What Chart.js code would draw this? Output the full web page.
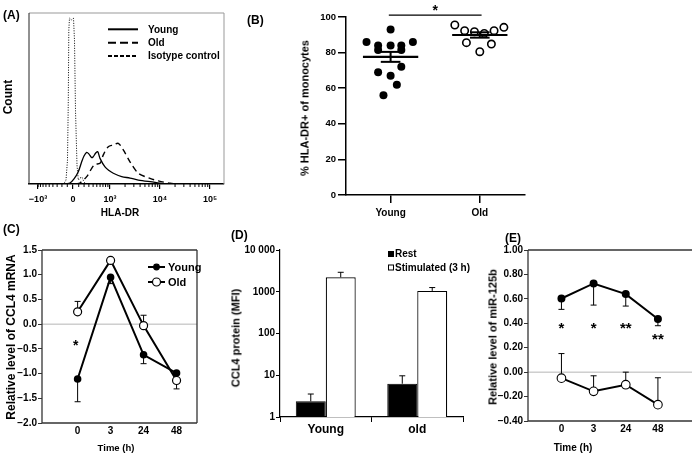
<!DOCTYPE html>
<html><head><meta charset="utf-8">
<script src="https://cdn.jsdelivr.net/npm/chart.js@4.4.1/dist/chart.umd.min.js"></script>
<style>
html,body{margin:0;padding:0;background:#fff;}
body{width:698px;height:457px;position:relative;overflow:hidden;font-family:'Liberation Sans',Arial,sans-serif;font-weight:bold;color:#000;}
canvas{position:absolute;}
.t{position:absolute;white-space:nowrap;line-height:1;}
.c{transform:translate(-50%,-50%);}
.l{transform:translate(0,-50%);}
.r{transform:translate(-50%,-50%) rotate(-90deg);}
</style></head><body>
<canvas id="cA" width="230" height="200" style="left:0;top:5px"></canvas>
<canvas id="cB" width="290" height="225" style="left:240px;top:0"></canvas>
<canvas id="cC" width="205" height="215" style="left:0;top:235px"></canvas>
<canvas id="cD" width="240" height="215" style="left:230px;top:235px"></canvas>
<canvas id="cE" width="238" height="215" style="left:460px;top:235px"></canvas>

<div class="t l" style="left:3px;top:15px;font-size:12px">(A)</div>
<div class="t l" style="left:247px;top:20px;font-size:12px">(B)</div>
<div class="t l" style="left:3px;top:229px;font-size:12px">(C)</div>
<div class="t l" style="left:231px;top:235px;font-size:12px">(D)</div>
<div class="t l" style="left:505px;top:238px;font-size:12px">(E)</div>

<div class="t r" style="left:8px;top:97px;font-size:12px">Count</div>
<div class="t c" style="left:120px;top:213px;font-size:10px">HLA-DR</div>
<div class="t r" style="left:305px;top:108px;font-size:11px">% HLA-DR+ of monocytes</div>
<div class="t r" style="left:11px;top:337px;font-size:12px">Relative level of CCL4 mRNA</div>
<div class="t c" style="left:116px;top:448px;font-size:9.5px">Time (h)</div>
<div class="t r" style="left:236px;top:338px;font-size:11px">CCL4 protein (MFI)</div>
<div class="t r" style="left:493px;top:337px;font-size:11px">Relative level of miR-125b</div>
<div class="t c" style="left:573px;top:448px;font-size:10px">Time (h)</div>

<script>
// ---------- DATA ----------
// (A) histogram, x in display (biexponential) units, y = relative count
const isoX   = [2.0, 2.08, 2.12, 2.15, 2.166, 2.176, 2.19, 2.23, 2.27, 2.29, 2.31, 2.34, 2.366, 2.40, 2.44, 2.48, 2.52];
const isoY   = [0, 0.3, 2.3, 14, 49, 90, 97, 96, 97, 84, 43, 11, 2.3, 3.5, 4, 1.2, 0];
const youngAX = [2.12, 2.2, 2.28, 2.366, 2.434, 2.48, 2.534, 2.58, 2.63, 2.66, 2.714, 2.754, 2.8, 2.9, 2.98, 3.066, 3.234, 3.4, 3.566, 3.9, 4.1];
const youngAY = [0, 0.6, 3, 7.2, 13, 16.4, 18.5, 17.5, 15.5, 15.8, 18.1, 18.9, 15, 10, 7.9, 6.3, 4.3, 3.5, 2.3, 1, 0];
const oldAX  = [2.32, 2.4, 2.534, 2.634, 2.7, 2.8, 2.866, 2.966, 3.066, 3.166, 3.266, 3.4, 3.566, 3.8, 3.966, 4.2, 4.4];
const oldAY  = [0, 0.6, 4.3, 9.2, 11.5, 12.1, 17, 21.8, 22.8, 23.8, 19.9, 13, 6.3, 3.3, 1.8, 0.4, 0];
const ticksA = [1.56, 2.26, 3, 4, 5];
const tickLabelsA = ['−10³', '0', '10³', '10⁴', '10⁵'];
const legendA = ['Young', 'Old', 'Isotype control'];

// (B) % HLA-DR+ of monocytes
const groupsB = ['Young', 'Old'];
const youngB = [93, 86, 86, 84, 84, 84, 81.5, 81.5, 72, 69, 67, 62, 56];
const youngBJitter = [0, -0.27, 0.25, -0.14, 0, 0.12, -0.14, 0.12, 0.12, -0.14, 0, 0.07, -0.08];
const oldB = [95.5, 92.3, 91.7, 90.8, 92.3, 94.2, 85.6, 80.5, 84.8];
const oldBJitter = [-0.28, -0.17, -0.06, 0.05, 0.16, 0.27, -0.15, 0, 0.13];
const meanB = [77.6, 89.9];
const semB = [2.8, 1.5];

// (C) CCL4 mRNA
const timesC = ['0', '3', '24', '48'];
const seriesNames = ['Young', 'Old'];
const youngC = [-1.11, 0.95, -0.62, -0.99];
const youngCErr = [-1.57, 0.82, -0.80, null];
const oldC = [0.25, 1.29, -0.03, -1.14];
const oldCErr = [0.46, 1.34, 0.18, -1.31];

// (D) CCL4 protein
const groupsD = ['Young', 'old'];
const seriesD = ['Rest', 'Stimulated (3 h)'];
const restD = [2.37, 6.26];
const restDErr = [3.55, 9.7];
const stimD = [2220, 1047];
const stimDErr = [2925, 1260];
const ticksD = [1, 10, 100, 1000, 10000];
const tickLabelsD = ['1', '10', '100', '1000', '10 000'];

// (E) miR-125b
const timesE = ['0', '3', '24', '48'];
const youngE = [0.603, 0.726, 0.639, 0.435];
const youngEErr = [0.514, 0.549, 0.541, 0.38];
const oldE = [-0.049, -0.157, -0.103, -0.266];
const oldEErr = [0.152, -0.03, 0.00, -0.046];
const starsE = ['*', '*', '**', '**'];
const starsEY = [0.39, 0.39, 0.39, 0.30];

// ---------- SETUP ----------
const FONT = "'Liberation Sans', Arial, sans-serif";
Chart.defaults.font.family = FONT;
Chart.defaults.font.weight = 'bold';
Chart.defaults.font.size = 10;
Chart.defaults.color = '#000';
Chart.defaults.animation = false;
Chart.defaults.responsive = false;
Chart.defaults.devicePixelRatio = 1;
Chart.defaults.events = [];
Chart.defaults.plugins.legend.display = false;
Chart.defaults.plugins.tooltip.enabled = false;

const pts = (xs, ys) => xs.map((x, i) => ({x, y: ys[i]}));
const idxPts = ys => ys.map((y, i) => ({x: i, y}));
const setTicks = vals => a => { a.ticks = vals.map(v => ({value: v})); };
const fmtSigned = d => v => Math.abs(v) < 1e-9 ? (0).toFixed(d) : (v < 0 ? '−' : '') + Math.abs(v).toFixed(d);

function line(ctx, x1, y1, x2, y2) { ctx.beginPath(); ctx.moveTo(x1, y1); ctx.lineTo(x2, y2); ctx.stroke(); }

function framePlugin(sides, width) {
  return {id: 'frame', afterDraw(chart) {
    const {ctx, chartArea: a} = chart;
    ctx.save(); ctx.lineWidth = width;
    if (sides.top) { ctx.strokeStyle = sides.top; line(ctx, a.left, a.top, a.right, a.top); }
    if (sides.right) { ctx.strokeStyle = sides.right; line(ctx, a.right, a.top, a.right, a.bottom); }
    if (sides.bottom) { ctx.strokeStyle = sides.bottom; line(ctx, a.left, a.bottom, a.right, a.bottom); }
    if (sides.left) { ctx.strokeStyle = sides.left; line(ctx, a.left, a.top, a.left, a.bottom); }
    ctx.restore();
  }};
}
const zeroPlugin = {id: 'zero', beforeDatasetsDraw(chart) {
  const {ctx, chartArea: a} = chart; const y = chart.scales.y.getPixelForValue(0);
  ctx.save(); ctx.strokeStyle = '#b5b5b5'; ctx.lineWidth = 1; line(ctx, a.left, y, a.right, y); ctx.restore();
}};
function errPlugin(specs) {
  return {id: 'err', beforeDatasetsDraw(chart) {
    const ctx = chart.ctx, ys = chart.scales.y;
    ctx.save(); ctx.strokeStyle = '#000'; ctx.lineWidth = 1;
    specs.forEach(s => {
      const meta = chart.getDatasetMeta(s.ds);
      s.ends.forEach((e, i) => {
        if (e == null) return;
        const el = meta.data[i]; const py = ys.getPixelForValue(e);
        line(ctx, el.x, el.y, el.x, py);
        line(ctx, el.x - s.cap, py, el.x + s.cap, py);
      });
    });
    ctx.restore();
  }};
}
function lineLegend(x0, x1, tx, items, size) {
  return {id: 'lleg', afterDraw(chart) {
    const ctx = chart.ctx; ctx.save();
    items.forEach(it => {
      ctx.strokeStyle = '#000'; ctx.lineWidth = 2; line(ctx, x0, it.y, x1, it.y);
      ctx.beginPath(); ctx.arc((x0 + x1) / 2, it.y, it.r, 0, Math.PI * 2);
      ctx.fillStyle = it.fill; ctx.fill(); ctx.lineWidth = 1.2; ctx.stroke();
      ctx.fillStyle = '#000'; ctx.font = 'bold ' + size + 'px ' + FONT; ctx.textBaseline = 'middle'; ctx.textAlign = 'left';
      ctx.fillText(it.label, tx, it.y + 0.5);
    });
    ctx.restore();
  }};
}
function drawStar(ctx, txt, x, yc, size) {
  ctx.font = 'bold ' + size + 'px ' + FONT; ctx.textAlign = 'center'; ctx.textBaseline = 'alphabetic'; ctx.fillStyle = '#000';
  ctx.fillText(txt, x, yc + 0.58 * size);
}

// ---------- (A) ----------
const asinhT = v => 2.26 + Math.asinh(v / 376) / Math.LN10;
const minorA = [];
[100, 200, 300, 400, 500, 600, 700, 800, 900].forEach(v => { minorA.push(asinhT(v)); minorA.push(asinhT(-v)); });
[2, 3, 4, 5, 6, 7, 8, 9].forEach(k => { minorA.push(3 + Math.log10(k)); minorA.push(4 + Math.log10(k)); minorA.push(5 + Math.log10(k)); });
const minorPluginA = {id: 'minorA', afterDraw(chart) {
  const {ctx, chartArea: a} = chart; const xs = chart.scales.x;
  ctx.save(); ctx.strokeStyle = '#000'; ctx.lineWidth = 1;
  minorA.forEach(u => { const px = xs.getPixelForValue(u); if (px > a.left && px < a.right) line(ctx, px, a.bottom, px, a.bottom + 3); });
  ctx.restore();
}};
const legendPluginA = {id: 'legA', afterDraw(chart) {
  const ctx = chart.ctx; ctx.save(); ctx.strokeStyle = '#000'; ctx.lineWidth = 2;
  const ys = [24.3, 37.7, 51], dashes = [[], [8, 4], [4, 2]];
  legendA.forEach((lab, i) => {
    ctx.setLineDash(dashes[i]); line(ctx, 108, ys[i], 138, ys[i]); ctx.setLineDash([]);
    ctx.fillStyle = '#000'; ctx.font = 'bold 10px ' + FONT; ctx.textBaseline = 'middle'; ctx.textAlign = 'left';
    ctx.fillText(lab, 148, ys[i] + 0.5);
  });
  ctx.restore();
}};
new Chart(document.getElementById('cA'), {
  type: 'line',
  data: {datasets: [
    {data: pts(isoX, isoY), borderColor: '#000', borderWidth: 1, borderDash: [1, 1.5], pointRadius: 0, tension: 0},
    {data: pts(oldAX, oldAY), borderColor: '#000', borderWidth: 1.4, borderDash: [6, 4], pointRadius: 0, tension: 0.3},
    {data: pts(youngAX, youngAY), borderColor: '#000', borderWidth: 1.3, pointRadius: 0, tension: 0.3}
  ]},
  options: {
    layout: {padding: {left: 29, top: 8, right: 6, bottom: 0}},
    scales: {
      x: {type: 'linear', min: 1.38, max: 5.28, afterBuildTicks: setTicks(ticksA),
          ticks: {callback: (v, i) => tickLabelsA[i], font: {size: 9}, padding: 5, maxRotation: 0, autoSkip: false},
          grid: {drawOnChartArea: false, tickLength: 5, color: '#000', lineWidth: 1.2},
          border: {color: '#000', width: 1.6}, afterFit: a => { a.height = 21; }},
      y: {display: false, min: 0, max: 100}
    }
  },
  plugins: [framePlugin({top: '#999', right: '#999', left: '#222'}, 1), minorPluginA, legendPluginA]
});

// ---------- (B) ----------
const meanPluginB = {id: 'meanB', afterDatasetsDraw(chart) {
  const ctx = chart.ctx, xs = chart.scales.x, ys = chart.scales.y;
  ctx.save(); ctx.strokeStyle = '#000';
  groupsB.forEach((g, i) => {
    const c = i + 1, m = meanB[i], s = semB[i];
    ctx.lineWidth = 2.2;
    line(ctx, xs.getPixelForValue(c - 0.31), ys.getPixelForValue(m), xs.getPixelForValue(c + 0.31), ys.getPixelForValue(m));
    ctx.lineWidth = 2;
    line(ctx, xs.getPixelForValue(c), ys.getPixelForValue(m - s), xs.getPixelForValue(c), ys.getPixelForValue(m + s));
    line(ctx, xs.getPixelForValue(c - 0.11), ys.getPixelForValue(m - s), xs.getPixelForValue(c + 0.11), ys.getPixelForValue(m - s));
    line(ctx, xs.getPixelForValue(c - 0.11), ys.getPixelForValue(m + s), xs.getPixelForValue(c + 0.11), ys.getPixelForValue(m + s));
  });
  ctx.lineWidth = 1.3;
  const sy = ys.getPixelForValue(101.1);
  line(ctx, xs.getPixelForValue(0.98), sy, xs.getPixelForValue(2.02), sy);
  drawStar(ctx, '*', xs.getPixelForValue(1.5), 7, 14);
  ctx.restore();
}};
new Chart(document.getElementById('cB'), {
  type: 'scatter',
  data: {datasets: [
    {data: youngB.map((v, i) => ({x: 1 + youngBJitter[i], y: v})), pointRadius: 4, pointBackgroundColor: '#000', pointBorderColor: '#000', pointBorderWidth: 0},
    {data: oldB.map((v, i) => ({x: 2 + oldBJitter[i], y: v})), pointRadius: 3.7, pointBackgroundColor: '#fff', pointBorderColor: '#000', pointBorderWidth: 1.6}
  ]},
  options: {
    layout: {padding: {top: 17, right: 2, left: 0, bottom: 0}},
    scales: {
      x: {type: 'linear', min: 0.5, max: 2.5, afterBuildTicks: setTicks([1, 2]),
          ticks: {callback: (v, i) => groupsB[i], padding: 4, font: {size: 10}, maxRotation: 0},
          grid: {drawOnChartArea: false, tickLength: 8, color: '#000', lineWidth: 1.5},
          border: {color: '#000', width: 1.5}, afterFit: a => { a.height = 30; }},
      y: {min: 0, max: 100, ticks: {stepSize: 20, padding: 2, font: {size: 9.5}},
          grid: {drawOnChartArea: false, tickLength: 8, color: '#000', lineWidth: 1.5},
          border: {color: '#000', width: 1.5}, afterFit: a => { a.width = 106; }}
    }
  },
  plugins: [meanPluginB]
});

// ---------- (C) ----------
const starC = {id: 'starC', afterDraw(chart) {
  const xs = chart.scales.x, ys = chart.scales.y;
  drawStar(chart.ctx, '*', xs.getPixelForValue(0) - 2, ys.getPixelForValue(-0.36), 14);
}};
new Chart(document.getElementById('cC'), {
  type: 'line',
  data: {datasets: [
    {data: idxPts(youngC), borderColor: '#000', borderWidth: 2, pointRadius: 2.8, pointBackgroundColor: '#000', pointBorderColor: '#000', tension: 0},
    {data: idxPts(oldC), borderColor: '#000', borderWidth: 2, pointRadius: 4, pointBackgroundColor: '#fff', pointBorderColor: '#000', pointBorderWidth: 1.2, tension: 0}
  ]},
  options: {
    layout: {padding: {top: 15, right: 8, left: 0, bottom: 0}},
    scales: {
      x: {type: 'linear', min: -1.08, max: 3.62, afterBuildTicks: setTicks([0, 1, 2, 3]),
          ticks: {callback: (v, i) => timesC[i], padding: 2, maxRotation: 0},
          grid: {drawOnChartArea: false, drawTicks: false}, border: {display: false}, afterFit: a => { a.height = 27; }},
      y: {min: -2, max: 1.5, ticks: {stepSize: 0.5, padding: 1, callback: fmtSigned(1)},
          grid: {drawOnChartArea: false, tickLength: 4, color: '#333'}, border: {display: false}, afterFit: a => { a.width = 42; }}
    }
  },
  plugins: [zeroPlugin, errPlugin([{ds: 0, ends: youngCErr, cap: 3}, {ds: 1, ends: oldCErr, cap: 3}]),
            framePlugin({top: '#333', right: '#333', bottom: '#333', left: '#333'}, 1.3),
            lineLegend(148, 165, 168, [{y: 32, r: 2.8, fill: '#000', label: seriesNames[0]}, {y: 47, r: 4, fill: '#fff', label: seriesNames[1]}], 11),
            starC]
});

// ---------- (D) ----------
const legendD = {id: 'legD', afterDraw(chart) {
  const ctx = chart.ctx; ctx.save();
  const ys = [19, 32.5];
  seriesD.forEach((lab, i) => {
    ctx.fillStyle = i === 0 ? '#000' : '#fff'; ctx.strokeStyle = '#000'; ctx.lineWidth = 1;
    ctx.fillRect(158.5, ys[i] - 2.5, 5, 5); ctx.strokeRect(158.5, ys[i] - 2.5, 5, 5);
    ctx.fillStyle = '#000'; ctx.font = 'bold 10px ' + FONT; ctx.textAlign = 'left'; ctx.textBaseline = 'middle';
    ctx.fillText(lab, 165, ys[i] + 0.5);
  });
  ctx.restore();
}};
new Chart(document.getElementById('cD'), {
  type: 'bar',
  data: {labels: groupsD, datasets: [
    {data: restD, backgroundColor: '#000', borderColor: '#000', borderWidth: 1, categoryPercentage: 0.655, barPercentage: 1},
    {data: stimD, backgroundColor: '#fff', borderColor: '#000', borderWidth: 1.2, categoryPercentage: 0.655, barPercentage: 1}
  ]},
  options: {
    layout: {padding: {top: 15, right: 7, left: 0, bottom: 0}},
    scales: {
      x: {ticks: {padding: 0, font: {size: 12}},
          grid: {drawOnChartArea: false, tickLength: 5, color: '#000', offset: true},
          border: {color: '#000', width: 1.2}, afterFit: a => { a.height = 33; }},
      y: {type: 'logarithmic', min: 1, max: 10000, afterBuildTicks: setTicks(ticksD),
          ticks: {callback: v => tickLabelsD[ticksD.indexOf(v)], padding: 1},
          grid: {drawOnChartArea: false, tickLength: 4, color: '#000'},
          border: {color: '#000', width: 1.2}, afterFit: a => { a.width = 50; }}
    }
  },
  plugins: [errPlugin([{ds: 0, ends: restDErr, cap: 3}, {ds: 1, ends: stimDErr, cap: 3}]), legendD]
});

// ---------- (E) ----------
const starE = {id: 'starE', afterDraw(chart) {
  const xs = chart.scales.x, ys = chart.scales.y;
  starsE.forEach((s, i) => drawStar(chart.ctx, s, xs.getPixelForValue(i), ys.getPixelForValue(starsEY[i]), 15));
}};
new Chart(document.getElementById('cE'), {
  type: 'line',
  data: {datasets: [
    {data: idxPts(youngE), borderColor: '#000', borderWidth: 2, pointRadius: 3, pointBackgroundColor: '#000', pointBorderColor: '#000', tension: 0},
    {data: idxPts(oldE), borderColor: '#000', borderWidth: 2, pointRadius: 4.3, pointBackgroundColor: '#fff', pointBorderColor: '#000', pointBorderWidth: 1.1, tension: 0}
  ]},
  options: {
    layout: {padding: {top: 15, right: 0, left: 0, bottom: 0}},
    scales: {
      x: {type: 'linear', min: -1.04, max: 4.06, afterBuildTicks: setTicks([0, 1, 2, 3]),
          ticks: {callback: (v, i) => timesE[i], padding: 2, maxRotation: 0},
          grid: {drawOnChartArea: false, drawTicks: false}, border: {display: false}, afterFit: a => { a.height = 29; }},
      y: {min: -0.4, max: 1.0, ticks: {stepSize: 0.2, padding: 1, callback: fmtSigned(2)},
          grid: {drawOnChartArea: false, tickLength: 4, color: '#333'}, border: {display: false}, afterFit: a => { a.width = 68; }}
    }
  },
  plugins: [zeroPlugin, errPlugin([{ds: 0, ends: youngEErr, cap: 3}, {ds: 1, ends: oldEErr, cap: 3}]),
            framePlugin({top: '#333', bottom: '#333', left: '#333'}, 1.3),
            lineLegend(632, 648, 651, [{y: 29, r: 3, fill: '#000', label: seriesNames[0]}, {y: 46, r: 4.3, fill: '#fff', label: seriesNames[1]}], 11),
            starE]
});
</script>
</body></html>
